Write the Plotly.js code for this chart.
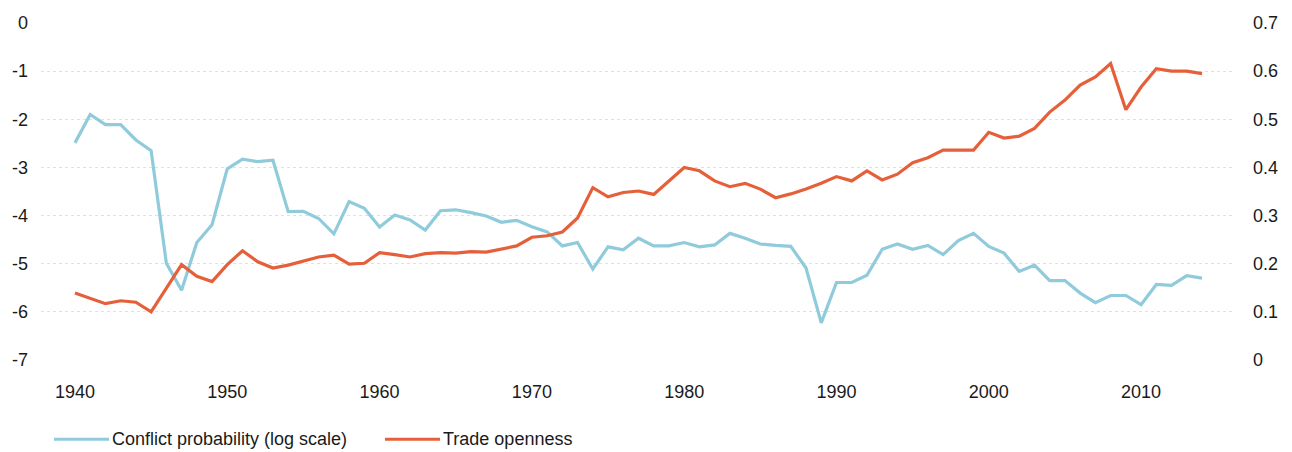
<!DOCTYPE html>
<html>
<head>
<meta charset="utf-8">
<script src="https://cdn.plot.ly/plotly-3.0.1.min.js"></script>
<style>
html,body{margin:0;padding:0;background:#fff;}
#chart{width:1292px;height:452px;}
</style>
</head>
<body>
<div id="chart"></div>
<script>
var years = [1940,1941,1942,1943,1944,1945,1946,1947,1948,1949,
             1950,1951,1952,1953,1954,1955,1956,1957,1958,1959,
             1960,1961,1962,1963,1964,1965,1966,1967,1968,1969,
             1970,1971,1972,1973,1974,1975,1976,1977,1978,1979,
             1980,1981,1982,1983,1984,1985,1986,1987,1988,1989,
             1990,1991,1992,1993,1994,1995,1996,1997,1998,1999,
             2000,2001,2002,2003,2004,2005,2006,2007,2008,2009,
             2010,2011,2012,2013,2014];

var conflictProb = [-2.49,-1.90,-2.11,-2.11,-2.43,-2.65,-4.99,-5.55,-4.56,-4.19,
                    -3.03,-2.83,-2.88,-2.85,-3.92,-3.91,-4.06,-4.38,-3.71,-3.85,
                    -4.24,-3.99,-4.09,-4.30,-3.90,-3.88,-3.94,-4.01,-4.14,-4.10,
                    -4.23,-4.34,-4.63,-4.56,-5.11,-4.65,-4.71,-4.47,-4.63,-4.63,
                    -4.56,-4.65,-4.61,-4.37,-4.47,-4.59,-4.62,-4.64,-5.09,-6.23,
                    -5.39,-5.39,-5.24,-4.70,-4.59,-4.70,-4.62,-4.81,-4.52,-4.37,
                    -4.64,-4.78,-5.16,-5.03,-5.35,-5.35,-5.61,-5.81,-5.66,-5.66,
                    -5.85,-5.43,-5.45,-5.25,-5.30];

var tradeOpenness = [0.139,0.128,0.117,0.123,0.120,0.100,0.150,0.198,0.174,0.163,
                     0.198,0.227,0.204,0.191,0.197,0.205,0.214,0.218,0.199,0.201,
                     0.223,0.219,0.214,0.221,0.223,0.222,0.225,0.224,0.230,0.237,
                     0.255,0.258,0.266,0.295,0.358,0.339,0.348,0.351,0.344,0.372,
                     0.400,0.393,0.372,0.360,0.367,0.355,0.337,0.345,0.355,0.367,
                     0.381,0.372,0.393,0.374,0.386,0.410,0.420,0.436,0.436,0.436,
                     0.473,0.461,0.465,0.481,0.515,0.540,0.571,0.588,0.616,0.520,
                     0.567,0.605,0.600,0.600,0.595];

var xTicks = [1940,1950,1960,1970,1980,1990,2000,2010];
var leftTicks = [0,-1,-2,-3,-4,-5,-6,-7];
var rightTicks = [0.7,0.6,0.5,0.4,0.3,0.2,0.1,0];
var seriesNames = ['Conflict probability (log scale)','Trade openness'];

var BLUE = '#8fcbdb';
var ORANGE = '#e5603a';
var FONT = 'Liberation Sans, Arial, Helvetica, sans-serif';
var TXT = '#1a1a1a';
var FS = 18;

var traces = [
  {x: years, y: conflictProb, name: seriesNames[0], type: 'scatter', mode: 'lines',
   line: {color: BLUE, width: 3.2}, yaxis: 'y'},
  {x: years, y: tradeOpenness, name: seriesNames[1], type: 'scatter', mode: 'lines',
   line: {color: ORANGE, width: 3.2}, yaxis: 'y2'}
];

function px2x(p){ return (p - 41) / 1193; }
function py2y(p){ return (360.5 - p) / 338; }

var legendY = py2y(440);
var layout = {
  width: 1292, height: 452,
  margin: {l: 41, r: 58, t: 22.5, b: 91.5},
  paper_bgcolor: '#fff', plot_bgcolor: '#fff',
  showlegend: false,
  font: {family: FONT, size: FS, color: TXT},
  xaxis: {range: [1937.77, 2016.1], tickvals: xTicks, ticktext: xTicks.map(String),
          showgrid: false, zeroline: false, showline: false, ticks: '',
          ticklabelstandoff: 19, tickfont: {family: FONT, size: FS, color: TXT}},
  yaxis: {range: [-7, 0], tickvals: leftTicks, ticktext: leftTicks.map(String),
          showgrid: true, gridcolor: '#e0e0e0', gridwidth: 1, griddash: 'dot',
          zeroline: false, showline: false, ticks: '',
          ticklabelstandoff: 12, tickfont: {family: FONT, size: FS, color: TXT}},
  yaxis2: {range: [0, 0.7], overlaying: 'y', side: 'right',
           tickvals: rightTicks, ticktext: rightTicks.map(String),
           showgrid: false, zeroline: false, showline: false, ticks: '',
           ticklabelstandoff: 18, tickfont: {family: FONT, size: FS, color: TXT}},
  shapes: [
    {type: 'line', xref: 'paper', yref: 'paper', x0: px2x(54), x1: px2x(109),
     y0: legendY, y1: legendY, line: {color: BLUE, width: 3.2}},
    {type: 'line', xref: 'paper', yref: 'paper', x0: px2x(385), x1: px2x(440),
     y0: legendY, y1: legendY, line: {color: ORANGE, width: 3.2}}
  ],
  annotations: [
    {xref: 'paper', yref: 'paper', x: px2x(110), y: legendY, xanchor: 'left', yanchor: 'middle',
     text: seriesNames[0], showarrow: false, font: {family: FONT, size: FS, color: TXT}},
    {xref: 'paper', yref: 'paper', x: px2x(441), y: legendY, xanchor: 'left', yanchor: 'middle',
     text: seriesNames[1], showarrow: false, font: {family: FONT, size: FS, color: TXT}}
  ]
};

Plotly.newPlot('chart', traces, layout, {displayModeBar: false, staticPlot: true});
</script>
</body>
</html>
